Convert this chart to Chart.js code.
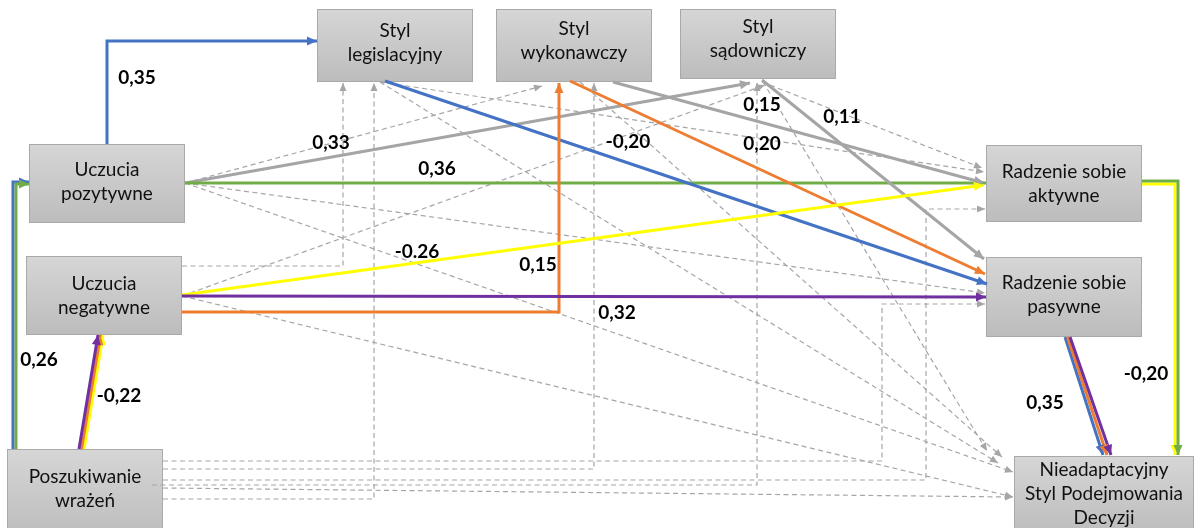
<!DOCTYPE html>
<html><head><meta charset="utf-8">
<script src="https://cdn.jsdelivr.net/npm/chart.js@4"></script>
<style>html,body{margin:0;padding:0;background:#fff;overflow:hidden}#wrap{width:1195px;height:528px;position:relative}</style>
</head><body><div id="wrap"><canvas id="c"></canvas></div>
<script>
// ---- data ----
const nodeLabels = [
  ['Styl','legislacyjny'], ['Styl','wykonawczy'], ['Styl','sądowniczy'],
  ['Uczucia','pozytywne'], ['Uczucia','negatywne'], ['Poszukiwanie','wrażeń'],
  ['Radzenie sobie','aktywne'], ['Radzenie sobie','pasywne'],
  ['Nieadaptacyjny','Styl Podejmowania','Decyzji']
];
const nodeBoxes = [[317,9,156,73],[496,9,156,73],[680,9,156,70],[29,144,156,79],[26,256,156,79],[7,449,156,90],[986,145,156,77],[986,257,156,80],[1014,456,180,80]];
const nodeTextY = [31,29,27,170,284,477,172,283,470];

const coefTexts = ['0,35','0,33','0,36','-0,20','0,15','0,20','0,11','-0.26','0,15','0,32','0,26','-0,22','0,35','-0,20'];
const coefPos = [[137,78],[331,143],[437,169],[628,142],[762,105],[762,144],[842,117],[417,252],[538,265],[617,313],[39,360],[119,396],[1045,403],[1146,374]];

// dashed (non-significant) paths
const dashedPaths = [
  [[182,266],[343,266],[343,83]],
  [[163,499],[374,499],[374,83]],
  [[163,469],[594,469],[594,83]],
  [[152,485],[757,485],[757,83]],
  [[163,461],[882,461],[882,304],[985,304]],
  [[163,480],[926,480],[926,209],[985,209]],
  [[163,488],[1013,497]],
  [[185,183],[542,86]],
  [[185,183],[985,293]],
  [[185,183],[1013,472]],
  [[182,296],[765,85]],
  [[182,296],[1013,497]],
  [[380,82],[984,172]],
  [[380,82],[998,463]],
  [[580,82],[1002,457]],
  [[762,82],[982,168]],
  [[763,82],[987,451]]
];
// significant paths
const solidPaths = [
  [[107,144],[107,41],[317,41]],
  [[13,449],[13,182],[29,182]],
  [[16,449],[16,184],[29,184]],
  [[185,183],[750,83]],
  [[185,183],[986,183]],
  [[613,82],[984,183]],
  [[762,80],[984,259]],
  [[385,81],[987,284]],
  [[570,81],[985,274]],
  [[182,312],[559,312],[559,83]],
  [[182,295],[984,185]],
  [[182,296],[986,297]],
  [[84,449],[103,335]],
  [[81.5,449],[100.5,335]],
  [[79,449],[98,335]],
  [[1065,337],[1103,455]],
  [[1067.5,337],[1107,455]],
  [[1070,337],[1111,455]],
  [[1142,184],[1175,184],[1175,455]],
  [[1142,181],[1178,181],[1178,455]]
];
const solidColors = ['#4472c4','#4472c4','#70ad47','#a5a5a5','#70ad47','#a5a5a5','#a5a5a5','#4472c4','#ed7d31','#ed7d31','#ffff00','#7030a0','#ffff00','#ed7d31','#7030a0','#4472c4','#ed7d31','#7030a0','#ffff00','#70ad47'];

// ---- build datasets ----
const ds = [];
dashedPaths.forEach(p => ds.push({data:p.map(q=>({x:q[0],y:q[1]})), showLine:true, borderColor:'#a6a6a6', borderWidth:1.2, borderDash:[5,3.5], pointRadius:0, fill:false, tension:0, clip:false, arrow:{len:8, half:3.5, color:'#a6a6a6'}}));
solidPaths.forEach((p,i) => ds.push({data:p.map(q=>({x:q[0],y:q[1]})), showLine:true, borderColor:solidColors[i], borderWidth:3, pointRadius:0, fill:false, tension:0, clip:false, arrow:{len:10, half:4.5, color:solidColors[i]}}));
ds.forEach((d,i)=>{ d.order = ds.length - i; });

const boxPlugin = {
  id:'boxes',
  beforeDatasetsDraw(chart){
    const {ctx, scales:{x, y}} = chart;
    nodeBoxes.forEach(b=>{
      const x0=x.getPixelForValue(b[0]), y0=y.getPixelForValue(b[1]);
      const x1=x.getPixelForValue(b[0]+b[2]), y1=y.getPixelForValue(b[1]+b[3]);
      const g=ctx.createLinearGradient(0,y0,0,y1);
      g.addColorStop(0,'#d6d6d6'); g.addColorStop(1,'#bcbcbc');
      ctx.save(); ctx.fillStyle=g; ctx.fillRect(x0,y0,x1-x0,y1-y0);
      ctx.strokeStyle='#a9a9a9'; ctx.lineWidth=1; ctx.strokeRect(x0+0.5,y0+0.5,x1-x0-1,y1-y0-1); ctx.restore();
    });
  },
  afterDatasetsDraw(chart){
    const {ctx, scales:{x, y}} = chart;
    const metas = chart.getSortedVisibleDatasetMetas().slice().reverse();
    metas.forEach(m=>{
      const d = chart.data.datasets[m.index]; if(!d.arrow) return;
      const pts=m.data, a=pts[pts.length-2], b=pts[pts.length-1];
      const ang=Math.atan2(b.y-a.y,b.x-a.x), L=d.arrow.len, H=d.arrow.half;
      ctx.save(); ctx.translate(b.x,b.y); ctx.rotate(ang);
      ctx.beginPath(); ctx.moveTo(0,0); ctx.lineTo(-L,-H); ctx.lineTo(-L,H); ctx.closePath();
      ctx.fillStyle=d.arrow.color; ctx.fill(); ctx.restore();
    });
    ctx.save();
    ctx.fillStyle='#111'; ctx.textAlign='center'; ctx.textBaseline='middle';
    ctx.font='19px Lato';
    nodeBoxes.forEach((b,i)=>{
      const cx=x.getPixelForValue(b[0]+b[2]/2);
      nodeLabels[i].forEach((t,k)=>ctx.fillText(t,cx,y.getPixelForValue(nodeTextY[i]+k*24)));
    });
    ctx.font='bold 19px Lato'; ctx.fillStyle='#000';
    coefTexts.forEach((t,i)=>ctx.fillText(t,x.getPixelForValue(coefPos[i][0]),y.getPixelForValue(coefPos[i][1])));
    ctx.restore();
  }
};

new Chart(document.getElementById('c'),{
  type:'scatter',
  data:{datasets:ds},
  options:{responsive:true, maintainAspectRatio:false, animation:false, events:[],
    layout:{padding:0},
    plugins:{legend:{display:false}, tooltip:{enabled:false}},
    scales:{x:{type:'linear',min:0,max:1195,display:false}, y:{type:'linear',min:0,max:528,reverse:true,display:false}}},
  plugins:[boxPlugin]
});
</script></body></html>
